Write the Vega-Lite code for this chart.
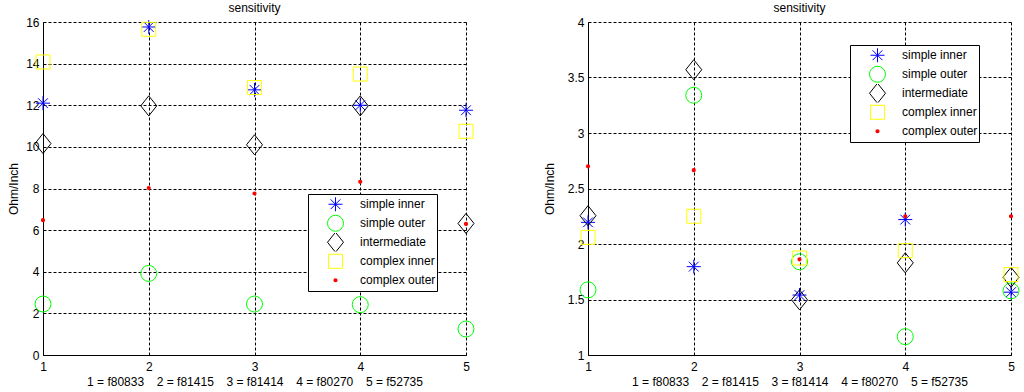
{
  "$schema": "https://vega.github.io/schema/vega-lite/v6.json",
  "padding": {"left": 7, "top": 2, "right": 5, "bottom": 0},
  "background": "white",
  "bounds": "flush",
  "spacing": 122,
  "datasets": {
    "left": [
      {"x": 1, "value": 12.1, "series": "simple inner"},
      {"x": 2, "value": 15.76, "series": "simple inner"},
      {"x": 3, "value": 12.74, "series": "simple inner"},
      {"x": 4, "value": 12.0, "series": "simple inner"},
      {"x": 5, "value": 11.76, "series": "simple inner"},
      {"x": 1, "value": 2.45, "series": "simple outer"},
      {"x": 2, "value": 3.92, "series": "simple outer"},
      {"x": 3, "value": 2.45, "series": "simple outer"},
      {"x": 4, "value": 2.42, "series": "simple outer"},
      {"x": 5, "value": 1.25, "series": "simple outer"},
      {"x": 1, "value": 10.16, "series": "intermediate"},
      {"x": 2, "value": 11.97, "series": "intermediate"},
      {"x": 3, "value": 10.1, "series": "intermediate"},
      {"x": 4, "value": 11.97, "series": "intermediate"},
      {"x": 5, "value": 6.32, "series": "intermediate"},
      {"x": 1, "value": 14.08, "series": "complex inner"},
      {"x": 2, "value": 15.65, "series": "complex inner"},
      {"x": 3, "value": 12.85, "series": "complex inner"},
      {"x": 4, "value": 13.5, "series": "complex inner"},
      {"x": 5, "value": 10.75, "series": "complex inner"},
      {"x": 1, "value": 6.48, "series": "complex outer"},
      {"x": 2, "value": 8.02, "series": "complex outer"},
      {"x": 3, "value": 7.76, "series": "complex outer"},
      {"x": 4, "value": 8.32, "series": "complex outer"},
      {"x": 5, "value": 6.3, "series": "complex outer"}
    ],
    "right": [
      {"x": 1, "value": 2.195, "series": "simple inner"},
      {"x": 2, "value": 1.796, "series": "simple inner"},
      {"x": 3, "value": 1.54, "series": "simple inner"},
      {"x": 4, "value": 2.22, "series": "simple inner"},
      {"x": 5, "value": 1.566, "series": "simple inner"},
      {"x": 1, "value": 1.587, "series": "simple outer"},
      {"x": 2, "value": 3.34, "series": "simple outer"},
      {"x": 3, "value": 1.84, "series": "simple outer"},
      {"x": 4, "value": 1.165, "series": "simple outer"},
      {"x": 5, "value": 1.578, "series": "simple outer"},
      {"x": 1, "value": 2.255, "series": "intermediate"},
      {"x": 2, "value": 3.57, "series": "intermediate"},
      {"x": 3, "value": 1.497, "series": "intermediate"},
      {"x": 4, "value": 1.83, "series": "intermediate"},
      {"x": 5, "value": 1.7, "series": "intermediate"},
      {"x": 1, "value": 2.06, "series": "complex inner"},
      {"x": 2, "value": 2.25, "series": "complex inner"},
      {"x": 3, "value": 1.874, "series": "complex inner"},
      {"x": 4, "value": 1.94, "series": "complex inner"},
      {"x": 5, "value": 1.724, "series": "complex inner"},
      {"x": 1, "value": 2.7, "series": "complex outer"},
      {"x": 2, "value": 2.665, "series": "complex outer"},
      {"x": 3, "value": 1.862, "series": "complex outer"},
      {"x": 4, "value": 2.25, "series": "complex outer"},
      {"x": 5, "value": 2.25, "series": "complex outer"}
    ]
  },
  "resolve": {
    "scale": {"color": "independent", "shape": "independent", "size": "independent", "strokeWidth": "independent", "y": "independent"},
    "legend": {"color": "independent", "shape": "independent", "size": "independent", "strokeWidth": "independent"}
  },
  "hconcat": [
    {
      "width": 423,
      "height": 333,
      "title": "sensitivity",
      "data": {"name": "left"},
      "mark": {"type": "point", "filled": false, "opacity": 1},
      "encoding": {
        "x": {"field": "x", "type": "quantitative", "scale": {"domain": [1, 5], "nice": false, "zero": false},
              "axis": {"values": [1, 2, 3, 4, 5], "format": "d", "title": "1 = f80833 \u2002 2 = f81415 \u2002 3 = f81414 \u2002 4 = f80270 \u2002 5 = f52735"}},
        "y": {"field": "value", "type": "quantitative", "scale": {"domain": [0, 16], "nice": false, "zero": false},
              "axis": {"values": [0, 2, 4, 6, 8, 10, 12, 14, 16], "format": "~g", "title": "Ohm/Inch", "titlePadding": 5}},
        "color": {"field": "series", "type": "nominal",
                  "scale": {"domain": ["simple inner", "simple outer", "intermediate", "complex inner", "complex outer"], "range": ["#0000ff", "#00ff00", "#000000", "#ffff00", "#ff0000"]},
                  "legend": {"orient": "none", "legendX": 265, "legendY": 172, "title": null}},
        "shape": {"field": "series", "type": "nominal",
                  "scale": {"domain": ["simple inner", "simple outer", "intermediate", "complex inner", "complex outer"], "range": ["M-1,0L1,0M0,-1L0,1M-0.7,-0.7L0.7,0.7M-0.7,0.7L0.7,-0.7", "circle", "M0,-1L0.8,0L0,1L-0.8,0Z", "square", "circle"]}},
        "size": {"field": "series", "type": "nominal",
                 "scale": {"type": "ordinal", "domain": ["simple inner", "simple outer", "intermediate", "complex inner", "complex outer"], "range": [196, 256, 400, 196, 5]}},
        "strokeWidth": {"field": "series", "type": "nominal",
                 "scale": {"type": "ordinal", "domain": ["simple inner", "simple outer", "intermediate", "complex inner", "complex outer"], "range": [1, 1, 1, 1, 2]}}
      }
    },
    {
      "width": 423,
      "height": 333,
      "title": "sensitivity",
      "data": {"name": "right"},
      "mark": {"type": "point", "filled": false, "opacity": 1},
      "encoding": {
        "x": {"field": "x", "type": "quantitative", "scale": {"domain": [1, 5], "nice": false, "zero": false},
              "axis": {"values": [1, 2, 3, 4, 5], "format": "d", "title": "1 = f80833 \u2002 2 = f81415 \u2002 3 = f81414 \u2002 4 = f80270 \u2002 5 = f52735"}},
        "y": {"field": "value", "type": "quantitative", "scale": {"domain": [1, 4], "nice": false, "zero": false},
              "axis": {"values": [1, 1.5, 2, 2.5, 3, 3.5, 4], "format": "~g", "title": "Ohm/Inch", "titlePadding": 11}},
        "color": {"field": "series", "type": "nominal",
                  "scale": {"domain": ["simple inner", "simple outer", "intermediate", "complex inner", "complex outer"], "range": ["#0000ff", "#00ff00", "#000000", "#ffff00", "#ff0000"]},
                  "legend": {"orient": "none", "legendX": 262, "legendY": 23, "title": null}},
        "shape": {"field": "series", "type": "nominal",
                  "scale": {"domain": ["simple inner", "simple outer", "intermediate", "complex inner", "complex outer"], "range": ["M-1,0L1,0M0,-1L0,1M-0.7,-0.7L0.7,0.7M-0.7,0.7L0.7,-0.7", "circle", "M0,-1L0.8,0L0,1L-0.8,0Z", "square", "circle"]}},
        "size": {"field": "series", "type": "nominal",
                 "scale": {"type": "ordinal", "domain": ["simple inner", "simple outer", "intermediate", "complex inner", "complex outer"], "range": [196, 256, 400, 196, 5]}},
        "strokeWidth": {"field": "series", "type": "nominal",
                 "scale": {"type": "ordinal", "domain": ["simple inner", "simple outer", "intermediate", "complex inner", "complex outer"], "range": [1, 1, 1, 1, 2]}}
      }
    }
  ],
  "config": {
    "font": "Liberation Sans",
    "view": {"stroke": null},
    "title": {"fontSize": 12, "fontWeight": "normal", "color": "#000000", "offset": 1, "font": "Liberation Sans"},
    "axis": {
      "domainColor": "#000000", "domainWidth": 1,
      "gridColor": "#000000", "gridDash": [3, 2], "gridWidth": 1, "gridOpacity": 1,
      "ticks": false, "tickSize": 0,
      "labelFontSize": 12, "labelColor": "#000000", "labelFont": "Liberation Sans",
      "titleFontSize": 12, "titleFontWeight": "normal", "titleColor": "#000000", "titleFont": "Liberation Sans"
    },
    "axisX": {"labelPadding": 6, "titlePadding": 4, "labelFlush": false},
    "axisY": {"labelPadding": 4},
    "legend": {
      "padding": 1, "strokeColor": "#000000", "fillColor": "#ffffff", "strokeWidth": 1,
      "labelFontSize": 12, "labelColor": "#000000", "labelFont": "Liberation Sans",
      "labelExpr": "datum.label + '\u00a0\u00a0'",
      "clipHeight": 18.5,
      "symbolOffset": 16, "labelOffset": 14, "rowPadding": 0, "symbolStrokeWidth": 1
    }
  }
}
